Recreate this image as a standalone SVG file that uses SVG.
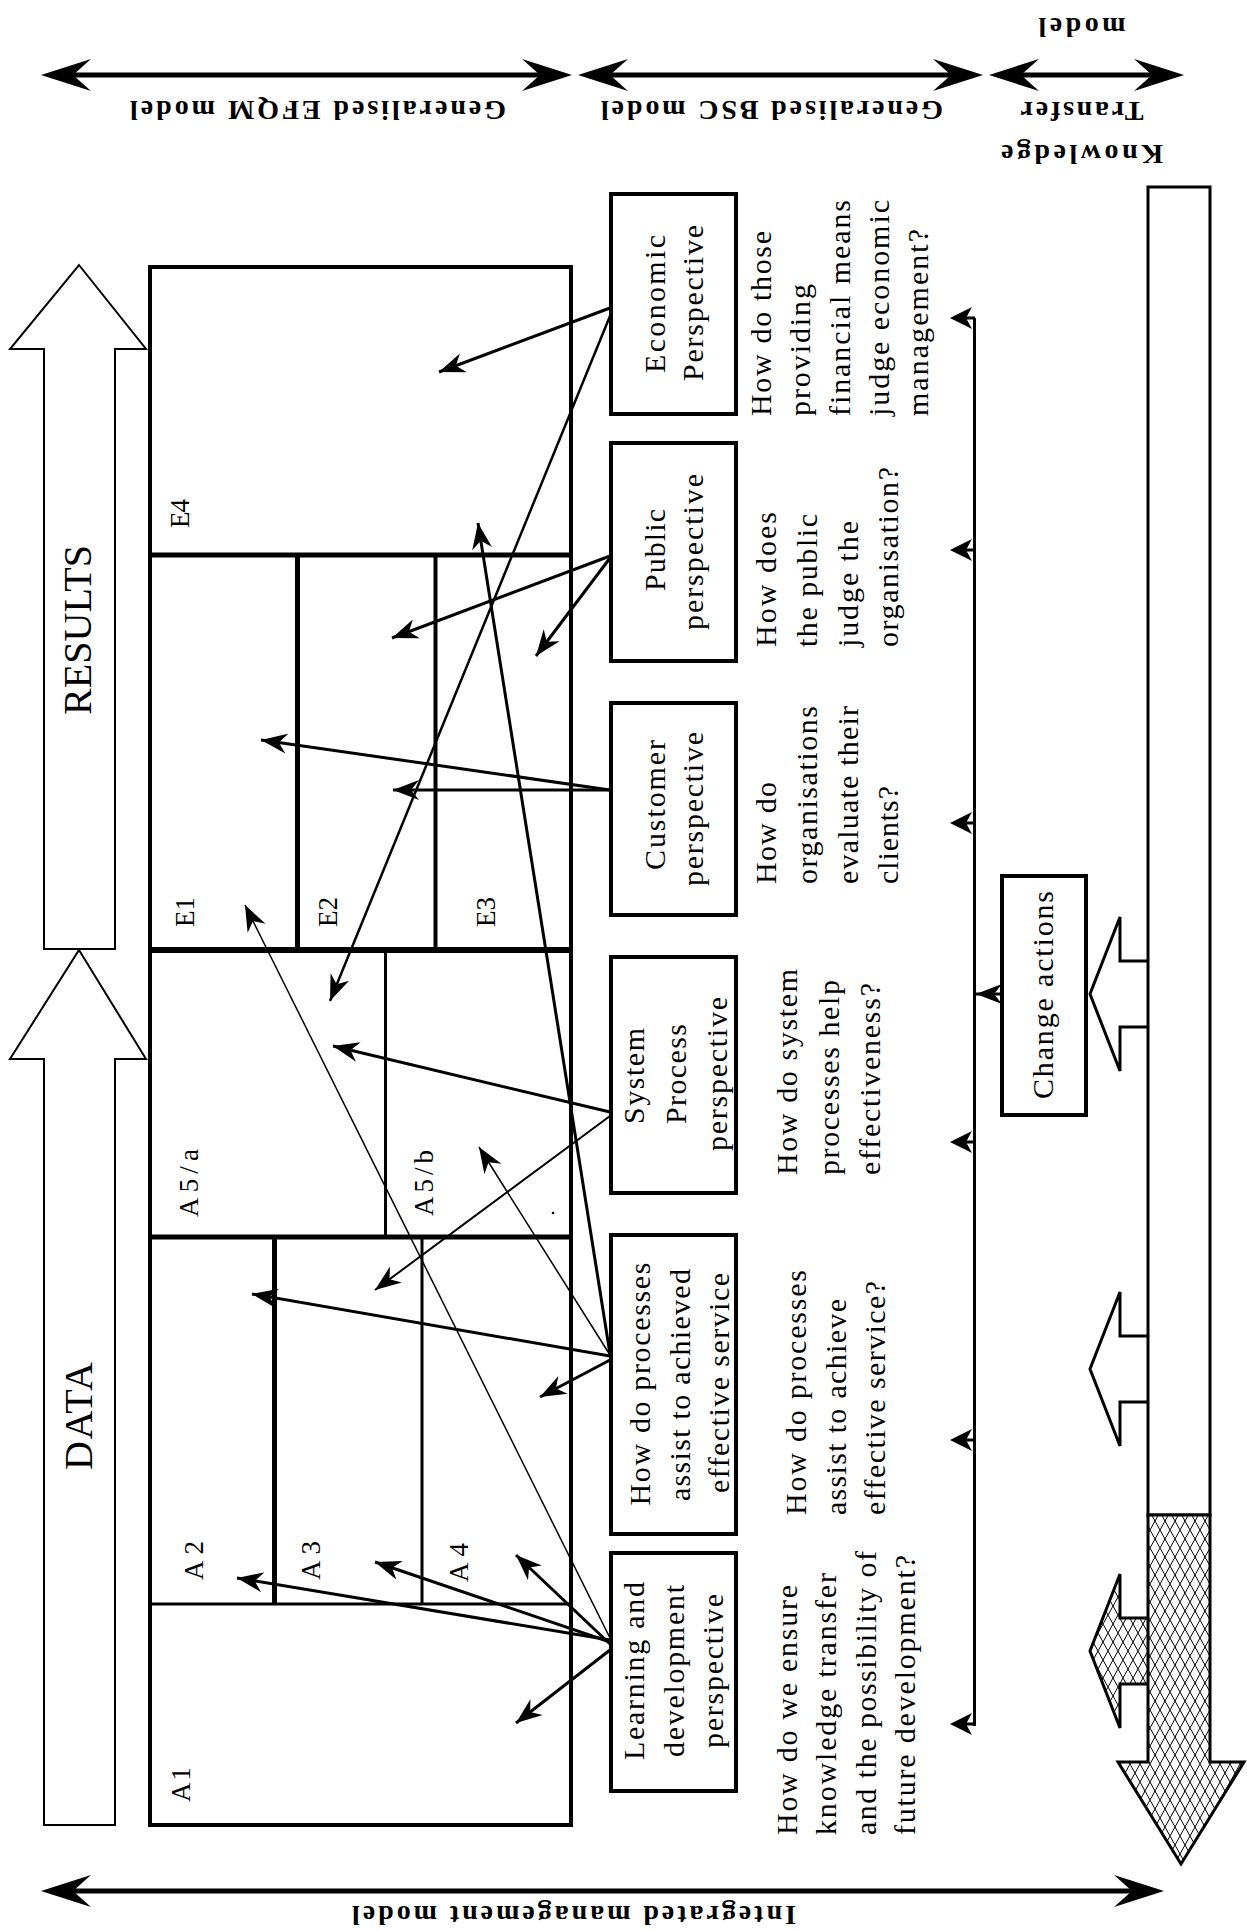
<svg xmlns="http://www.w3.org/2000/svg" width="1247" height="1931" viewBox="0 0 1247 1931">
<defs>
<style>
.t{font-family:"Liberation Serif","Times New Roman",serif;font-size:30px;fill:#000}
.lb{font-family:"Liberation Serif","Times New Roman",serif;font-weight:bold;font-size:28px;fill:#000}
.cell{font-family:"Liberation Serif","Times New Roman",serif;font-size:27px;fill:#000}
.big{font-family:"Liberation Serif","Times New Roman",serif;font-size:40px;fill:#000}
.box{fill:#fff;stroke:#000;stroke-width:4}
.gl{stroke:#000;fill:none}
.c{stroke:#000;fill:none;marker-end:url(#ah)}
.thick{stroke-width:3}
.thin{stroke-width:1.5}
.dbl{stroke:#000;stroke-width:5;fill:none;marker-start:url(#bh);marker-end:url(#bh)}
.blk{fill:#fff;stroke:#000;stroke-width:3}
.hollow{fill:#fff;stroke:#000;stroke-width:2}
</style>
<marker id="ah" viewBox="0 0 26 22" refX="26" refY="11" markerWidth="26" markerHeight="22" markerUnits="userSpaceOnUse" orient="auto"><path d="M0,1 L26,11 L0,21 L8,11 Z" fill="#000"/></marker>
<marker id="bh" viewBox="0 0 50 32" refX="35" refY="16" markerWidth="50" markerHeight="32" markerUnits="userSpaceOnUse" orient="auto-start-reverse"><path d="M0,0 L50,16 L0,32 L18,16 Z" fill="#000"/></marker>
<pattern id="hatch" patternUnits="userSpaceOnUse" width="10" height="18"><path d="M0,0 L10,18 M10,0 L0,18" stroke="#000" stroke-width="1"/></pattern>
<path id="vh" d="M0,0 L22,-11 L16,0 L22,11 Z M16,-1.5 H25 V1.5 H16 Z" fill="#000"/>
<path id="blkshape" d="M0,-33 H-28 V-77 L-58,0 L-28,77 V33 H0"/>
</defs>
<rect width="1247" height="1931" fill="#fff"/>

<g id="scope-arrows">
<line class="dbl" x1="56" y1="75" x2="557" y2="75"/>
<line class="dbl" x1="593" y1="75" x2="968" y2="75"/>
<line class="dbl" x1="1004" y1="75" x2="1169" y2="75"/>
<line class="dbl" x1="56" y1="1891" x2="1149" y2="1891"/>
<text class="lb" transform="translate(318,101) rotate(180)" text-anchor="middle" textLength="376" lengthAdjust="spacing">Generalised EFQM model</text>
<text class="lb" transform="translate(772,101) rotate(180)" text-anchor="middle" textLength="342" lengthAdjust="spacing">Generalised BSC model</text>
<text class="lb" transform="translate(1082,18) rotate(180)" text-anchor="middle" textLength="87" lengthAdjust="spacing">model</text>
<text class="lb" transform="translate(1082,102) rotate(180)" text-anchor="middle" textLength="123" lengthAdjust="spacing">Transfer</text>
<text class="lb" transform="translate(1082,145) rotate(180)" text-anchor="middle" textLength="162" lengthAdjust="spacing">Knowledge</text>
<text class="lb" font-size="26" transform="translate(574,1906) rotate(180)" text-anchor="middle" textLength="444" lengthAdjust="spacing">Integrated management model</text>
</g>

<g id="results-arrow">
<path class="hollow" d="M79,265 L146,349 H115 V949 H44 V349 H10 Z"/>
<text class="big" transform="translate(91,630) rotate(-90)" text-anchor="middle" textLength="170" lengthAdjust="spacing">RESULTS</text>
</g>
<g id="data-arrow">
<path class="hollow" d="M79,950 L146,1059 H115 V1825 H44 V1059 H10 Z"/>
<text class="big" transform="translate(92,1416) rotate(-90)" text-anchor="middle" textLength="108" lengthAdjust="spacing">DATA</text>
</g>

<g id="efqm-model">
<rect x="150" y="267" width="421" height="1558" fill="#fff" stroke="#000" stroke-width="4"/>
<line class="gl" stroke-width="5" x1="150" y1="555" x2="571" y2="555"/>
<line class="gl" stroke-width="5" x1="297.5" y1="555" x2="297.5" y2="950"/>
<line class="gl" stroke-width="4" x1="435.5" y1="555" x2="435.5" y2="950"/>
<line class="gl" stroke-width="6" x1="150" y1="950" x2="571" y2="950"/>
<line class="gl" stroke-width="3" x1="385.5" y1="950" x2="385.5" y2="1237"/>
<line class="gl" stroke-width="5" x1="150" y1="1237" x2="571" y2="1237"/>
<line class="gl" stroke-width="5" x1="274.5" y1="1237" x2="274.5" y2="1604"/>
<line class="gl" stroke-width="3" x1="422" y1="1237" x2="422" y2="1604"/>
<line class="gl" stroke-width="3" x1="150" y1="1604" x2="571" y2="1604"/>
<circle cx="553" cy="1213" r="1.3" fill="#000"/>
<g id="cell-E4"><text class="cell" transform="translate(189,528) rotate(-90)" textLength="29" lengthAdjust="spacing">E4</text></g>
<g id="cell-E1"><text class="cell" transform="translate(194,927) rotate(-90)" textLength="30" lengthAdjust="spacing">E1</text></g>
<g id="cell-E2"><text class="cell" transform="translate(337,927) rotate(-90)" textLength="30" lengthAdjust="spacing">E2</text></g>
<g id="cell-E3"><text class="cell" transform="translate(495,927) rotate(-90)" textLength="30" lengthAdjust="spacing">E3</text></g>
<g id="cell-A5a"><text class="cell" transform="translate(198,1217) rotate(-90)" textLength="68" lengthAdjust="spacing">A5/a</text></g>
<g id="cell-A5b"><text class="cell" transform="translate(433,1216) rotate(-90)" textLength="66" lengthAdjust="spacing">A5/b</text></g>
<g id="cell-A2"><text class="cell" transform="translate(203,1580) rotate(-90)" textLength="39" lengthAdjust="spacing">A2</text></g>
<g id="cell-A3"><text class="cell" transform="translate(320,1580) rotate(-90)" textLength="39" lengthAdjust="spacing">A3</text></g>
<g id="cell-A4"><text class="cell" transform="translate(468,1582) rotate(-90)" textLength="39" lengthAdjust="spacing">A4</text></g>
<g id="cell-A1"><text class="cell" transform="translate(190,1802) rotate(-90)" textLength="35" lengthAdjust="spacing">A1</text></g>
</g>

<g id="box-economic">
<rect class="box" x="611" y="194" width="125" height="220"/>
<text class="t" transform="translate(665,304) rotate(-90)" text-anchor="middle" textLength="138" lengthAdjust="spacing">Economic</text>
<text class="t" transform="translate(703,303) rotate(-90)" text-anchor="middle" textLength="156" lengthAdjust="spacing">Perspective</text>
</g>
<g id="box-public">
<rect class="box" x="611" y="443" width="125" height="218"/>
<text class="t" transform="translate(665,550) rotate(-90)" text-anchor="middle" textLength="82" lengthAdjust="spacing">Public</text>
<text class="t" transform="translate(703,552) rotate(-90)" text-anchor="middle" textLength="156" lengthAdjust="spacing">perspective</text>
</g>
<g id="box-customer">
<rect class="box" x="611" y="703" width="125" height="212"/>
<text class="t" transform="translate(665,805) rotate(-90)" text-anchor="middle" textLength="130" lengthAdjust="spacing">Customer</text>
<text class="t" transform="translate(703,809) rotate(-90)" text-anchor="middle" textLength="154" lengthAdjust="spacing">perspective</text>
</g>
<g id="box-system">
<rect class="box" x="611" y="957" width="125" height="236"/>
<text class="t" transform="translate(644,1076) rotate(-90)" text-anchor="middle" textLength="96" lengthAdjust="spacing">System</text>
<text class="t" transform="translate(686,1074) rotate(-90)" text-anchor="middle" textLength="100" lengthAdjust="spacing">Process</text>
<text class="t" transform="translate(727,1074) rotate(-90)" text-anchor="middle" textLength="154" lengthAdjust="spacing">perspective</text>
</g>
<g id="box-processes">
<rect class="box" x="611" y="1235" width="125" height="299"/>
<text class="t" transform="translate(650,1384) rotate(-90)" text-anchor="middle" textLength="243" lengthAdjust="spacing">How do processes</text>
<text class="t" transform="translate(690,1385) rotate(-90)" text-anchor="middle" textLength="232" lengthAdjust="spacing">assist to achieved</text>
<text class="t" transform="translate(729,1383) rotate(-90)" text-anchor="middle" textLength="220" lengthAdjust="spacing">effective service</text>
</g>
<g id="box-learning">
<rect class="box" x="611" y="1553" width="125" height="238"/>
<text class="t" transform="translate(644,1671) rotate(-90)" text-anchor="middle" textLength="178" lengthAdjust="spacing">Learning and</text>
<text class="t" transform="translate(684,1671) rotate(-90)" text-anchor="middle" textLength="172" lengthAdjust="spacing">development</text>
<text class="t" transform="translate(723,1671) rotate(-90)" text-anchor="middle" textLength="154" lengthAdjust="spacing">perspective</text>
</g>

<g id="q-economic">
<text class="t" transform="translate(771,416) rotate(-90)" textLength="185" lengthAdjust="spacing">How do those</text>
<text class="t" transform="translate(810,416) rotate(-90)" textLength="132" lengthAdjust="spacing">providing</text>
<text class="t" transform="translate(850,416) rotate(-90)" textLength="216" lengthAdjust="spacing">financial means</text>
<text class="t" transform="translate(889,416) rotate(-90)" textLength="216" lengthAdjust="spacing">judge economic</text>
<text class="t" transform="translate(928,416) rotate(-90)" textLength="187" lengthAdjust="spacing">management?</text>
</g>
<g id="q-public">
<text class="t" transform="translate(776,647) rotate(-90)" textLength="135" lengthAdjust="spacing">How does</text>
<text class="t" transform="translate(817,647) rotate(-90)" textLength="133" lengthAdjust="spacing">the public</text>
<text class="t" transform="translate(858,647) rotate(-90)" textLength="126" lengthAdjust="spacing">judge the</text>
<text class="t" transform="translate(898,647) rotate(-90)" textLength="180" lengthAdjust="spacing">organisation?</text>
</g>
<g id="q-customer">
<text class="t" transform="translate(776,884) rotate(-90)" textLength="102" lengthAdjust="spacing">How do</text>
<text class="t" transform="translate(817,884) rotate(-90)" textLength="178" lengthAdjust="spacing">organisations</text>
<text class="t" transform="translate(858,884) rotate(-90)" textLength="178" lengthAdjust="spacing">evaluate their</text>
<text class="t" transform="translate(898,884) rotate(-90)" textLength="98" lengthAdjust="spacing">clients?</text>
</g>
<g id="q-system">
<text class="t" transform="translate(797,1175) rotate(-90)" textLength="206" lengthAdjust="spacing">How do system</text>
<text class="t" transform="translate(839,1175) rotate(-90)" textLength="195" lengthAdjust="spacing">processes help</text>
<text class="t" transform="translate(880,1175) rotate(-90)" textLength="192" lengthAdjust="spacing">effectiveness?</text>
</g>
<g id="q-processes">
<text class="t" transform="translate(806,1515) rotate(-90)" textLength="245" lengthAdjust="spacing">How do processes</text>
<text class="t" transform="translate(846,1515) rotate(-90)" textLength="216" lengthAdjust="spacing">assist to achieve</text>
<text class="t" transform="translate(885,1515) rotate(-90)" textLength="234" lengthAdjust="spacing">effective service?</text>
</g>
<g id="q-learning">
<text class="t" transform="translate(797,1835) rotate(-90)" textLength="250" lengthAdjust="spacing">How do we ensure</text>
<text class="t" transform="translate(836,1835) rotate(-90)" textLength="262" lengthAdjust="spacing">knowledge transfer</text>
<text class="t" transform="translate(876,1835) rotate(-90)" textLength="284" lengthAdjust="spacing">and the possibility of</text>
<text class="t" transform="translate(915,1835) rotate(-90)" textLength="280" lengthAdjust="spacing">future development?</text>
</g>

<g id="feedback-line">
<line x1="974.5" y1="318" x2="974.5" y2="1726" stroke="#000" stroke-width="3"/>
<use href="#vh" x="950" y="318"/>
<use href="#vh" x="950" y="550"/>
<use href="#vh" x="950" y="823"/>
<use href="#vh" x="950" y="1142"/>
<use href="#vh" x="950" y="1440"/>
<use href="#vh" x="950" y="1724"/>
</g>

<g id="change-actions">
<rect x="1002" y="876" width="84" height="239" fill="#fff" stroke="#000" stroke-width="4"/>
<text class="t" transform="translate(1053,995) rotate(-90)" text-anchor="middle" textLength="208" lengthAdjust="spacing">Change actions</text>
</g>

<g id="knowledge-transfer">
<use href="#blkshape" class="blk" transform="translate(1148,994)"/>
<use href="#blkshape" class="blk" transform="translate(1148,1369)"/>
<use href="#blkshape" transform="translate(1148,1651)" fill="url(#hatch)" stroke="#000" stroke-width="3"/>
<rect x="1148" y="187" width="62" height="1328" fill="#fff" stroke="#000" stroke-width="3"/>
<path d="M1148,1515 H1210 V1762 H1244 L1181,1864 L1118,1762 H1148 Z" fill="#fff"/>
<path d="M1148,1515 H1210 V1762 H1244 L1181,1864 L1118,1762 H1148 Z" fill="url(#hatch)" stroke="#000" stroke-width="3"/>
</g>

<g id="connectors">
<line class="c thick" x1="610" y1="308" x2="439" y2="372"/>
<line class="c" stroke-width="2.5" x1="610" y1="316" x2="330" y2="1001"/>
<line class="c thick" x1="610" y1="556" x2="392" y2="638"/>
<line class="c thick" x1="610" y1="558" x2="536" y2="656"/>
<line class="c thick" x1="610" y1="790" x2="261" y2="740"/>
<line class="c thick" x1="610" y1="790" x2="393" y2="790"/>
<line class="c thick" x1="610" y1="1112" x2="333" y2="1046"/>
<line class="c" stroke-width="2" x1="610" y1="1116" x2="375" y2="1290"/>
<line class="c thick" x1="610" y1="1356" x2="252" y2="1294"/>
<line class="c thick" x1="610" y1="1360" x2="540" y2="1397"/>
<line class="c thin" x1="610" y1="1355" x2="479" y2="1147"/>
<line class="c thick" x1="610" y1="1354" x2="478" y2="523"/>
<line class="c thick" x1="610" y1="1640" x2="237" y2="1578"/>
<line class="c thick" x1="610" y1="1642" x2="375" y2="1562"/>
<line class="c thick" x1="610" y1="1644" x2="516" y2="1555"/>
<line class="c thick" x1="610" y1="1650" x2="516" y2="1723"/>
<line class="c thin" x1="610" y1="1638" x2="245" y2="905"/>
<line class="c thick" x1="1002" y1="994" x2="976" y2="994"/>
</g>
</svg>
